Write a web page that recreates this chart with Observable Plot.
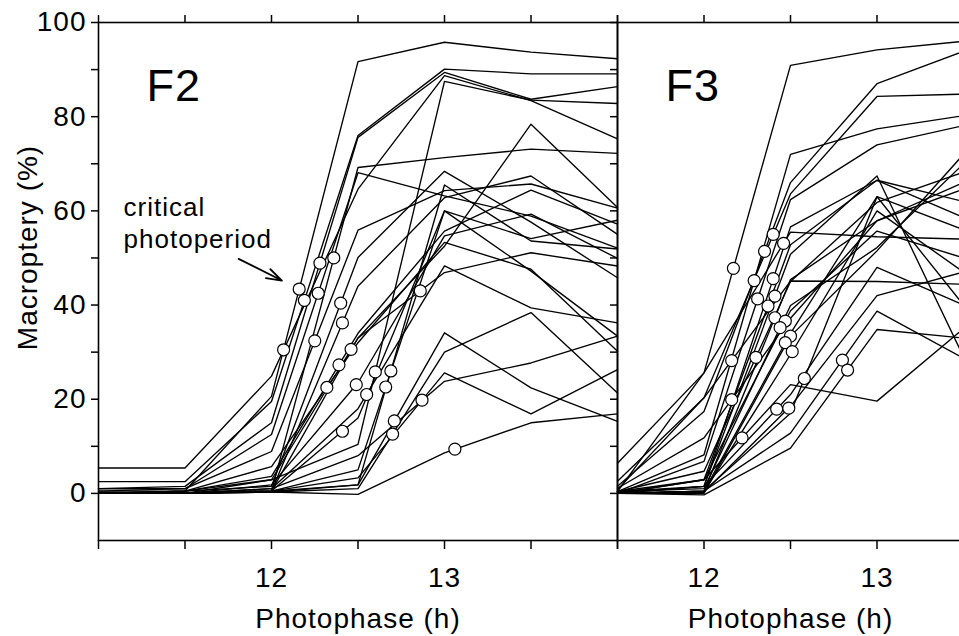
<!DOCTYPE html>
<html>
<head>
<meta charset="utf-8">
<script src="https://cdn.jsdelivr.net/npm/d3@7"></script>
<script src="https://cdn.jsdelivr.net/npm/@observablehq/plot@0.6"></script>
<style>
  html, body { margin: 0; padding: 0; background: #fff; overflow: hidden; }
  #chart { position: relative; width: 959px; height: 636px; overflow: hidden; background: #fff; }
  #chart svg { position: absolute; left: 0; top: 0; }
</style>
</head>
<body>
<div id="chart"></div>
<script>
// ---------- DATA ----------
// Photophase (h) at which macroptery was measured
const photophaseF2 = [11, 11.5, 12, 12.5, 13, 13.5, 14];
const photophaseF3 = [11.5, 12, 12.5, 13, 13.5];

// Macroptery (%) of each line, F2 generation (one array per line)
const macropteryF2 = [
  [0.0, 0.5, 20.6, 91.7, 95.8, 93.7, 92.3],
  [5.4, 5.4, 24.9, 64.6, 88.7, 83.4, 75.3],
  [1.0, 1.5, 15.0, 75.6, 89.4, 83.7, 86.4],
  [2.5, 2.5, 19.5, 76.0, 90.1, 89.1, 89.1],
  [0.0, 0.0, 0.5, 69.2, 71.3, 73.1, 72.2],
  [0.5, 1.0, 12.5, 68.1, 63.2, 58.9, 52.1],
  [1.0, 1.0, 8.9, 55.9, 64.3, 65.7, 60.6],
  [0.0, 0.5, 1.5, 50.1, 68.4, 57.6, 45.8],
  [0.0, 0.0, 0.5, 44.0, 62.8, 67.4, 55.0],
  [0.0, 0.0, 2.9, 33.0, 52.5, 78.4, 60.7],
  [0.5, 0.5, 3.6, 34.0, 55.7, 64.4, 57.2],
  [0.0, 0.0, 0.5, 33.0, 46.9, 51.1, 48.3],
  [0.0, 0.0, 1.8, 23.5, 54.7, 59.3, 49.9],
  [0.0, 0.0, 1.0, 18.0, 48.3, 39.4, 36.2],
  [0.0, 0.0, 0.5, 16.0, 60.0, 54.1, 58.0],
  [0.0, 0.5, 5.7, 32.0, 53.3, 47.6, 30.2],
  [0.0, 0.5, 2.9, 10.4, 87.5, 83.5, 82.8],
  [0.0, 0.0, 0.3, 1.8, 65.5, 53.6, 51.9],
  [0.0, 0.0, 0.5, 5.0, 60.0, 47.2, 33.4],
  [0.0, 0.0, 0.5, 1.8, 34.1, 22.4, 15.3],
  [0.0, 0.0, 0.3, 1.0, 30.0, 38.4, 21.3],
  [0.0, 0.0, 0.5, 3.3, 25.6, 16.9, 26.3],
  [0.0, 0.0, 0.3, -0.2, 8.6, 15.0, 16.9],
  [0.0, 0.0, 1.0, 8.0, 23.8, 27.7, 33.4]
];
// Critical photoperiods (open circles), F2
const criticalF2X = [12.16, 12.07, 12.28, 12.19, 12.36, 12.27, 12.25, 12.40, 12.41, 12.46, 12.39, 12.86,
                     12.49, 12.55, 12.41, 12.32, 12.60, 12.69, 12.66, 12.71, 12.70, 12.87, 13.06];
const criticalF2Y = [43.4, 30.5, 48.9, 41.0, 50.0, 42.5, 32.4, 40.4, 36.2, 30.6, 27.3, 43.0,
                     23.1, 21.0, 13.2, 22.5, 25.8, 26.0, 22.6, 15.4, 12.6, 19.8, 9.4];

// Macroptery (%) of each line, F3 generation
const macropteryF3 = [
  [6.4, 25.6, 90.9, 94.2, 96.0],
  [1.5, 17.4, 66.0, 87.0, 93.9],
  [0.4, 25.6, 55.5, 54.5, 54.0],
  [0.8, 20.3, 63.6, 84.3, 84.8],
  [2.6, 20.3, 45.1, 45.0, 44.4],
  [1.1, 11.8, 37.2, 57.9, 64.6],
  [0.4, 8.2, 72.0, 77.4, 80.2],
  [0.0, 6.8, 62.4, 74.0, 78.1],
  [0.4, 4.7, 45.0, 61.8, 68.2],
  [0.0, 2.9, 52.8, 66.5, 58.6],
  [0.0, 1.5, 56.6, 66.5, 62.0],
  [0.4, 1.5, 50.8, 67.4, 29.0],
  [0.0, 0.5, 45.4, 57.9, 66.0],
  [0.0, 2.9, 38.8, 55.7, 50.0],
  [0.4, 1.0, 39.9, 52.2, 70.0],
  [0.0, 0.0, 33.4, 51.5, 72.0],
  [0.0, 0.5, 34.0, 63.0, 40.0],
  [0.0, 0.3, 29.5, 60.0, 47.0],
  [0.0, 0.5, 17.0, 63.0, 56.0],
  [0.0, 0.5, 12.8, 38.7, 28.7],
  [0.0, -0.3, 9.6, 34.8, 33.0],
  [0.4, 2.9, 23.1, 19.6, 35.0],
  [0.0, 1.5, 21.0, 48.0, 40.0],
  [0.0, 0.3, 18.5, 42.0, 47.0]
];
const criticalF3X = [12.17, 12.35, 12.46, 12.40, 12.16, 12.16, 12.29, 12.31, 12.30, 12.37, 12.40, 12.41,
                     12.41, 12.47, 12.44, 12.50, 12.47, 12.51, 12.58, 12.80, 12.83, 12.22, 12.42, 12.49];
const criticalF3Y = [47.8, 51.4, 53.1, 55.0, 28.2, 19.9, 45.2, 41.3, 28.9, 39.8, 45.6, 41.9,
                     37.3, 36.6, 35.2, 33.4, 32.0, 30.1, 24.4, 28.3, 26.2, 11.8, 17.9, 18.1];

// Axes
const yDomain = [-10, 100];
const yTicks = [0, 10, 20, 30, 40, 50, 60, 70, 80, 90, 100];
const yTickLabels = [0, 20, 40, 60, 80, 100];
const xTicksF2 = [11, 11.5, 12, 12.5, 13, 13.5, 14];
const xTicksF3 = [11.5, 12, 12.5, 13, 13.5];
const xTickLabels = [12, 13];
const xTitle = "Photophase (h)";
const yTitle = "Macroptery (%)";
const panelNames = ["F2", "F3"];

// Annotation in panel F2
const annotationLines = ["critical", "photoperiod"];
const annotationX = [11.145, 11.145];
const annotationY = [59.0, 52.2];
const arrowF2 = [{x1: 11.81, y1: 49.8, x2: 12.06, y2: 45.2}];

// ---------- BUILD ----------
const toRows = (xs, lines) => lines.flatMap((vals, id) => vals.map((v, i) => ({id, x: xs[i], y: v})));
const toPts = (xs, ys) => xs.map((x, i) => ({x, y: ys[i]}));

const FONT = "'Liberation Sans', Arial, Helvetica, sans-serif";
const baseStyle = {
  fontFamily: FONT, fontSize: "28px", color: "black", background: "transparent",
  overflow: "visible", maxWidth: "none", letterSpacing: "1px"
};

function panel({xDomain, xTicks, lines, xs, cx, cy, marginLeft, width, name, showYLabels, extra}) {
  return Plot.plot({
    width, height: 636,
    marginLeft, marginRight: 1, marginTop: 22, marginBottom: 96,
    x: {domain: xDomain, label: null},
    y: {domain: yDomain, label: null},
    style: baseStyle,
    marks: [
      Plot.frame({stroke: "black", strokeWidth: 1.6}),
      Plot.line(toRows(xs, lines), {x: "x", y: "y", z: "id", stroke: "black", strokeWidth: 1.35}),
      Plot.dot(toPts(cx, cy), {x: "x", y: "y", r: 6, fill: "white", stroke: "black", strokeWidth: 1.2}),
      Plot.axisY({ticks: yTicks, tickSize: 7, tickPadding: 5, label: null, strokeWidth: 1.5,
                  tickFormat: d => (showYLabels && yTickLabels.includes(d)) ? String(d) : ""}),
      Plot.axisX({anchor: "bottom", ticks: xTicks, tickSize: 9, tickPadding: 18, label: null, strokeWidth: 1.5,
                  tickFormat: d => xTickLabels.includes(d) ? String(d) : ""}),
      Plot.axisX({anchor: "top", ticks: xTicks, tickSize: 8, label: null, strokeWidth: 1.5, tickFormat: () => ""}),
      Plot.text([name], {text: d => d, frameAnchor: "top-left", dx: 48, dy: 47, fontSize: 45,
                         textAnchor: "start", lineAnchor: "top"}),
      Plot.text([xTitle], {text: d => d, frameAnchor: "bottom", dy: 87, lineAnchor: "bottom", textAnchor: "middle"}),
      ...(extra || [])
    ]
  });
}

const p1 = panel({
  xDomain: [11, 14], xTicks: xTicksF2, lines: macropteryF2, xs: photophaseF2,
  cx: criticalF2X, cy: criticalF2Y, marginLeft: 98, width: 618, name: panelNames[0], showYLabels: true,
  extra: [
    Plot.text(annotationLines, {x: annotationX, y: annotationY, text: d => d, textAnchor: "start",
                                lineAnchor: "bottom", fontSize: 26, letterSpacing: 1.6}),
    Plot.arrow(arrowF2, {x1: "x1", y1: "y1", x2: "x2", y2: "y2", stroke: "black", strokeWidth: 1.8,
                         headLength: 14, headAngle: 36}),
    Plot.text([yTitle], {text: d => d, frameAnchor: "left", rotate: -90, dx: -70, dy: -34,
                         lineAnchor: "middle", textAnchor: "middle", letterSpacing: 0})
  ]
});

const p2 = panel({
  xDomain: [11.5, 13.5], xTicks: xTicksF3, lines: macropteryF3, xs: photophaseF3,
  cx: criticalF3X, cy: criticalF3Y, marginLeft: 617, width: 964, name: panelNames[1], showYLabels: false
});

const chart = document.getElementById("chart");
chart.appendChild(p1);
chart.appendChild(p2);
</script>
</body>
</html>
